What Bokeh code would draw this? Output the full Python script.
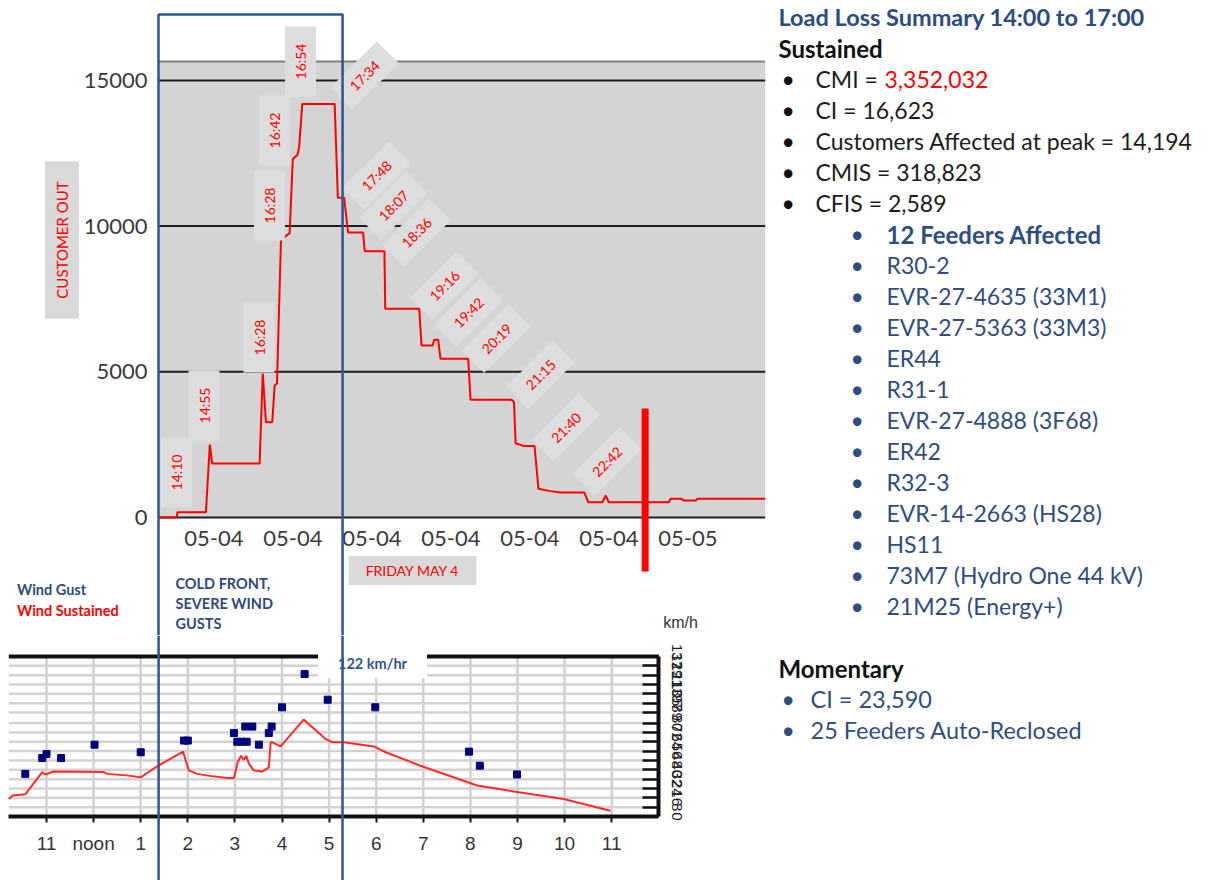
import pandas as pd
from math import pi
from bokeh.plotting import figure
from bokeh.layouts import row, column
from bokeh.models import Range1d, FixedTicker, DatetimeTickFormatter, BoxAnnotation, Label, Span
from bokeh.core.properties import value
from bokeh.embed import file_html
from bokeh.resources import INLINE

# ---------------- data: customers out, Friday May 4 2018 ----------------
out_time = ["2018-05-04 13:50", "2018-05-04 14:13", "2018-05-04 14:14", "2018-05-04 14:50",
            "2018-05-04 14:55", "2018-05-04 14:58", "2018-05-04 15:58", "2018-05-04 16:02",
            "2018-05-04 16:06", "2018-05-04 16:14", "2018-05-04 16:17", "2018-05-04 16:20",
            "2018-05-04 16:25", "2018-05-04 16:33", "2018-05-04 16:36", "2018-05-04 16:40",
            "2018-05-04 16:46", "2018-05-04 16:48", "2018-05-04 16:52", "2018-05-04 17:33",
            "2018-05-04 17:37", "2018-05-04 17:45", "2018-05-04 17:50", "2018-05-04 18:09",
            "2018-05-04 18:11", "2018-05-04 18:36", "2018-05-04 18:37", "2018-05-04 19:20",
            "2018-05-04 19:23", "2018-05-04 19:37", "2018-05-04 19:39", "2018-05-04 19:44",
            "2018-05-04 19:47", "2018-05-04 20:22", "2018-05-04 20:25", "2018-05-04 21:17",
            "2018-05-04 21:20", "2018-05-04 21:22", "2018-05-04 21:33", "2018-05-04 21:46",
            "2018-05-04 21:51", "2018-05-04 22:06", "2018-05-04 22:19", "2018-05-04 22:49",
            "2018-05-04 22:54", "2018-05-04 23:12", "2018-05-04 23:16", "2018-05-04 23:20",
            "2018-05-05 00:36", "2018-05-05 00:38", "2018-05-05 00:52", "2018-05-05 00:55",
            "2018-05-05 01:10", "2018-05-05 01:12", "2018-05-05 02:38"]
out_value = [0, 0, 180, 180, 2500, 1850, 1850, 4940, 3270, 3270, 4530, 4600,
             9500, 9700, 9750, 12300, 12450, 12710, 14194, 14194, 10970, 10970, 9780, 9780,
             9140, 9140, 7160, 7160, 5900, 5900, 6100, 6100, 5445, 5445, 4040, 4040,
             3960, 2550, 2450, 2450, 985, 905, 860, 860, 525, 525, 755, 525,
             525, 640, 640, 580, 580, 640, 640]
out_range = ["2018-05-04 13:50", "2018-05-05 02:38"]
out_ymax = 15650
out_yticks = [0, 5000, 10000, 15000]
out_xticks = ["2018-05-04 15:00", "2018-05-04 16:40", "2018-05-04 18:20", "2018-05-04 20:00",
              "2018-05-04 21:40", "2018-05-04 23:20", "2018-05-05 01:00"]
front_window = ["2018-05-04 13:50", "2018-05-04 17:43"]
marker_time = ["2018-05-05 00:06"]
marker_low = [-1850]
marker_high = [3740]
callout_text = ["14:10", "14:55", "16:28", "16:28", "16:42", "16:54", "17:34", "17:48", "18:07",
                "18:36", "19:16", "19:42", "20:19", "21:15", "21:40", "22:42"]

# ---------------- data: wind (km/h) ----------------
sust_hour = [10.2, 10.28, 10.55, 10.91, 10.98, 11.15, 12.22, 12.29, 12.75, 13.0,
             13.35, 13.9, 14.02, 14.2, 14.42, 14.84, 14.98, 15.06, 15.13, 15.19,
             15.24, 15.3, 15.4, 15.58, 15.72, 15.76, 15.8, 15.97, 16.46, 16.92,
             17.07, 17.31, 17.95, 18.2, 18.94, 19.93, 20.14, 20.92, 21.98, 22.97]
sust_kmh = [15, 18, 19, 38, 36, 38.5, 38, 36.5, 35, 33.5,
            43, 55.5, 39.5, 36.5, 35, 33, 33, 46.5, 52, 48.5,
            52, 45, 39.5, 38.5, 42, 63.5, 63.5, 60, 83, 66.5,
            63.5, 63.5, 60, 55, 43.5, 29.5, 26.5, 21.5, 15, 5]
gust_hour = [10.55, 10.91, 11.0, 11.31, 12.02, 13.0, 13.92, 14.0, 14.98, 15.05,
             15.14, 15.25, 15.22, 15.37, 15.51, 15.72, 15.78, 16.0, 16.48, 16.97,
             17.98, 19.97, 20.2, 20.99]
gust_kmh = [36.5, 50, 53.5, 50, 61.5, 55, 65, 65, 71.5, 64,
            64, 64, 77, 77, 61.5, 71.5, 77, 93.5, 122, 100,
            93.5, 55.5, 43.5, 36]
kmh_ticks = [0, 8, 16, 24, 32, 40, 48, 56, 64, 72, 80, 89, 97, 105, 113, 121, 129, 137]
hour_ticks = [11, 12, 13, 14, 15, 16, 17, 18, 19, 20, 21, 22, 23]
hour_labels = ["11", "noon", "1", "2", "3", "4", "5", "6", "7", "8", "9", "10", "11"]
wind_hours = [10.2, 24]
wind_top = 137
front_hours = [13.38, 17.285]

# ---------------- data: summary text ----------------
summary_title = "Load Loss Summary 14:00 to 17:00"
sustained_items = ["CMI = ", "CI = 16,623", "Customers Affected at peak = 14,194",
                   "CMIS = 318,823", "CFIS = 2,589"]
cmi_value = "3,352,032"
feeders_heading = "12 Feeders Affected"
feeders = ["R30-2", "EVR-27-4635 (33M1)", "EVR-27-5363 (33M3)", "ER44", "R31-1",
           "EVR-27-4888 (3F68)", "ER42", "R32-3", "EVR-14-2663 (HS28)", "HS11",
           "73M7 (Hydro One 44 kV)", "21M25 (Energy+)"]
momentary_items = ["CI = 23,590", "25 Feeders Auto-Reclosed"]

BLUE = "#2f5496"
RED = "#ff0000"
NAVY = "#2f4d7e"
FONT = "Lato"
SANS = "Liberation Sans"

SPLIT = 635     # page y where the top canvas ends and the wind canvas begins
LEFT_W = 775
TOTAL_H = 880


def ms(t):
    return pd.Timestamp(t).value / 1e6


# page-pixel helpers for placing annotations / setting ranges
def tA(px):
    return ms(pd.Timestamp(out_range[0]) + pd.Timedelta(minutes=(px - 158) / 0.79))


def vA(py):
    return (517 - py) * 5000 / 145.7


def hB(px):
    return 11 + (px - 46) / 47.1


def vB(py):
    return (816 - py) * 137 / 160


# ================= top chart =================
pA = figure(width=LEFT_W, height=SPLIT, x_axis_type="datetime",
            x_range=Range1d(tA(0), tA(LEFT_W)), y_range=Range1d(vA(SPLIT), vA(0)),
            output_backend="svg", toolbar_location=None, min_border=0)
pA.outline_line_color = None
pA.xgrid.visible = False
pA.ygrid.visible = False

pA.add_layout(BoxAnnotation(left=ms(out_range[0]), right=ms(out_range[1]), bottom=0, top=out_ymax,
                            fill_color="#d4d4d4", fill_alpha=1, line_color=None, level="underlay"))
pA.segment(x0=ms(out_range[0]), x1=ms(out_range[1]), y0=out_yticks, y1=out_yticks,
           line_color="#1e1e1e", line_width=2)
pA.segment(x0=ms(out_range[0]), x1=ms(out_range[1]), y0=out_ymax, y1=out_ymax,
           line_color="#808080", line_width=2)
pA.line(pd.to_datetime(out_time), out_value, line_color=RED, line_width=2)
pA.segment(x0=pd.to_datetime(marker_time), x1=pd.to_datetime(marker_time), y0=marker_low, y1=marker_high,
           line_color=RED, line_width=7)

xa = pA.xaxis[0]
xa.fixed_location = 0
xa.ticker = FixedTicker(ticks=[ms(t) for t in out_xticks])
fmt = "%m-%d"
xa.formatter = DatetimeTickFormatter(microseconds=fmt, milliseconds=fmt, seconds=fmt, minsec=fmt,
                                     minutes=fmt, hourmin=fmt, hours=fmt, days=fmt, months=fmt, years=fmt)
xa.axis_line_color = None
xa.major_tick_line_color = None
xa.minor_tick_line_color = None
xa.major_tick_out = 0
xa.major_label_text_font = FONT
xa.major_label_text_font_size = "22px"
xa.major_label_text_color = "#3a3a3a"
xa.major_label_standoff = 13

ya = pA.yaxis[0]
ya.fixed_location = ms(out_range[0])
ya.ticker = FixedTicker(ticks=out_yticks)
ya.axis_line_color = None
ya.major_tick_line_color = None
ya.minor_tick_line_color = None
ya.major_tick_out = 0
ya.major_label_text_font = FONT
ya.major_label_text_font_size = "22px"
ya.major_label_text_color = "#3a3a3a"
ya.major_label_standoff = 11

callout_pos = [(176, 472, pi / 2), (203.5, 405, pi / 2), (258.5, 337, pi / 2), (269, 205, pi / 2),
               (274, 130, pi / 2), (300, 61, pi / 2), (364, 75, pi / 4), (376, 175, pi / 4),
               (393, 205, pi / 4), (416, 232, pi / 4), (444, 285, pi / 4), (468, 312, pi / 4),
               (496, 338, pi / 4), (540, 374, pi / 4), (565.5, 427, pi / 4), (606.5, 461, pi / 4)]
for txt_, (px, py, ang) in zip(callout_text, callout_pos):
    pA.add_layout(Label(x=tA(px), y=vA(py), text=txt_, angle=ang, text_align="center",
                        text_baseline="middle", text_color=RED, text_font=FONT,
                        text_font_size="14px", background_fill_color="#dddddd",
                        padding=(17, 7) if ang > 1 else (15, 7)))

pA.add_layout(Label(x=tA(61.5), y=vA(239.5), text="CUSTOMER OUT", angle=pi / 2, text_align="center",
                    text_baseline="middle", text_color=RED, text_font=FONT, text_font_size="15px",
                    background_fill_color="#d9d9d9", padding=(20, 8)))
pA.add_layout(Label(x=tA(412), y=vA(570), text="FRIDAY MAY 4", text_align="center",
                    text_baseline="middle", text_color=RED, text_font=FONT, text_font_size="14px",
                    background_fill_color="#d9d9d9", padding=(17, 6)))

# wind-chart captions placed above the wind chart
pA.add_layout(Label(x=tA(680), y=vA(622), text="km/h", text_align="center", text_baseline="middle",
                    text_font=SANS, text_font_size="16px", text_color="#333333"))
for t_, py, col in [("Wind Gust", 589, "#2e4a7a"), ("Wind Sustained", 610, RED)]:
    pA.add_layout(Label(x=tA(16.5), y=vA(py), text=t_, text_align="left", text_baseline="middle",
                        text_font=FONT, text_font_style="bold", text_font_size="14.5px", text_color=col))
for t_, py in [("COLD FRONT,", 583), ("SEVERE WIND", 603), ("GUSTS", 623)]:
    pA.add_layout(Label(x=tA(175), y=vA(py), text=t_, text_align="left", text_baseline="middle",
                        text_font=FONT, text_font_style="bold", text_font_size="14.5px", text_color="#2e4a7a"))

pA.add_layout(BoxAnnotation(left=ms(front_window[0]), right=ms(front_window[1]), top=vA(14),
                            bottom=vA(1200), fill_alpha=0, line_color=BLUE, line_alpha=1, line_width=2.5))

# ================= wind chart =================
pB = figure(width=LEFT_W, height=TOTAL_H - SPLIT, x_range=Range1d(hB(0), hB(LEFT_W)),
            y_range=Range1d(vB(TOTAL_H), vB(SPLIT)),
            y_axis_location="right", output_backend="svg", toolbar_location=None, min_border=0)
pB.outline_line_color = None
pB.xgrid.visible = False
pB.ygrid.visible = False

pB.segment(x0=wind_hours[0], x1=wind_hours[1], y0=kmh_ticks[1:-1], y1=kmh_ticks[1:-1],
           line_color="#d2d2d2", line_width=2.5)
pB.segment(x0=hour_ticks, x1=hour_ticks, y0=0, y1=wind_top, line_color="#d2d2d2", line_width=2.5)
pB.segment(x0=wind_hours[0], x1=wind_hours[1], y0=wind_top, y1=wind_top, line_color="#111111", line_width=4)
pB.line(sust_hour, sust_kmh, line_color="#ff2a2a", line_width=2)
pB.scatter(gust_hour, gust_kmh, marker="square", size=7, fill_color="#00007a", line_color="#00007a")

xb = pB.xaxis[0]
xb.fixed_location = 0
xb.bounds = (wind_hours[0], wind_hours[1])
xb.ticker = FixedTicker(ticks=hour_ticks)
xb.major_label_overrides = {h: s for h, s in zip(hour_ticks, hour_labels)}
xb.axis_line_color = "#111111"
xb.axis_line_width = 4
xb.major_tick_in = 0
xb.major_tick_out = 6
xb.major_tick_line_width = 2
xb.major_tick_line_color = "#111111"
xb.minor_tick_line_color = None
xb.major_label_text_font = SANS
xb.major_label_text_font_size = "19px"
xb.major_label_text_color = "#333333"
xb.major_label_standoff = 10

yb = pB.yaxis[0]
yb.fixed_location = wind_hours[1]
yb.bounds = (0, wind_top)
yb.ticker = FixedTicker(ticks=kmh_ticks)
yb.axis_line_color = "#111111"
yb.axis_line_width = 4
yb.major_tick_in = 16
yb.major_tick_out = 0
yb.major_tick_line_width = 2.5
yb.major_tick_line_color = "#111111"
yb.minor_tick_line_color = None
yb.major_label_orientation = "vertical"
yb.major_label_text_font = SANS
yb.major_label_text_font_size = "15px"
yb.major_label_text_color = "#222222"
yb.major_label_standoff = 13

pB.add_layout(Label(x=hB(372), y=vB(663), text="122 km/hr", text_align="center", text_baseline="middle",
                    text_font=FONT, text_font_style="bold", text_font_size="14.5px", text_color=BLUE,
                    background_fill_color="white", padding=(20, 6)))
for h in front_hours:
    pB.add_layout(Span(location=h, dimension="height", line_color=BLUE, line_width=2.5))

# ================= summary text panel =================
PANEL_W = 430
pC = figure(width=PANEL_W, height=TOTAL_H, x_range=Range1d(0, PANEL_W), y_range=Range1d(TOTAL_H, 0),
            x_axis_location=None, y_axis_location=None, output_backend="svg",
            toolbar_location=None, min_border=0)
pC.outline_line_color = None
pC.grid.visible = False


def ypos(i):
    return 16.7 + 31 * i


def txt(x, rows, texts, color, size="23px", bold=False):
    pC.text(x=[x - LEFT_W] * len(rows), y=[ypos(i) for i in rows], text=texts, text_color=color,
            text_font=value(FONT), text_font_size=value(size),
            text_font_style="bold" if bold else "normal", text_baseline="middle", text_align="left")


txt(778, [0], [summary_title], "#2b4c83", size="23.5px", bold=True)
txt(778, [1], ["Sustained"], "#111111", size="24px", bold=True)
main_rows = list(range(2, 2 + len(sustained_items)))
txt(781, main_rows, ["•"] * len(main_rows), "#111111")
txt(815, main_rows, sustained_items, "#1c1c1c")
txt(884, [2], [cmi_value], RED)
sub_rows = list(range(7, 8 + len(feeders)))
txt(850, sub_rows, ["•"] * len(sub_rows), NAVY)
txt(886, [7], [feeders_heading], NAVY, size="24px", bold=True)
txt(886, sub_rows[1:], feeders, NAVY)
txt(778, [21], ["Momentary"], "#111111", size="24px", bold=True)
mom_rows = [22, 23]
txt(781, mom_rows, ["•"] * 2, NAVY)
txt(810, mom_rows, momentary_items, NAVY, size="23.5px")

layout = row(column(pA, pB), pC)
open("out.html", "w").write(file_html(layout, INLINE))
